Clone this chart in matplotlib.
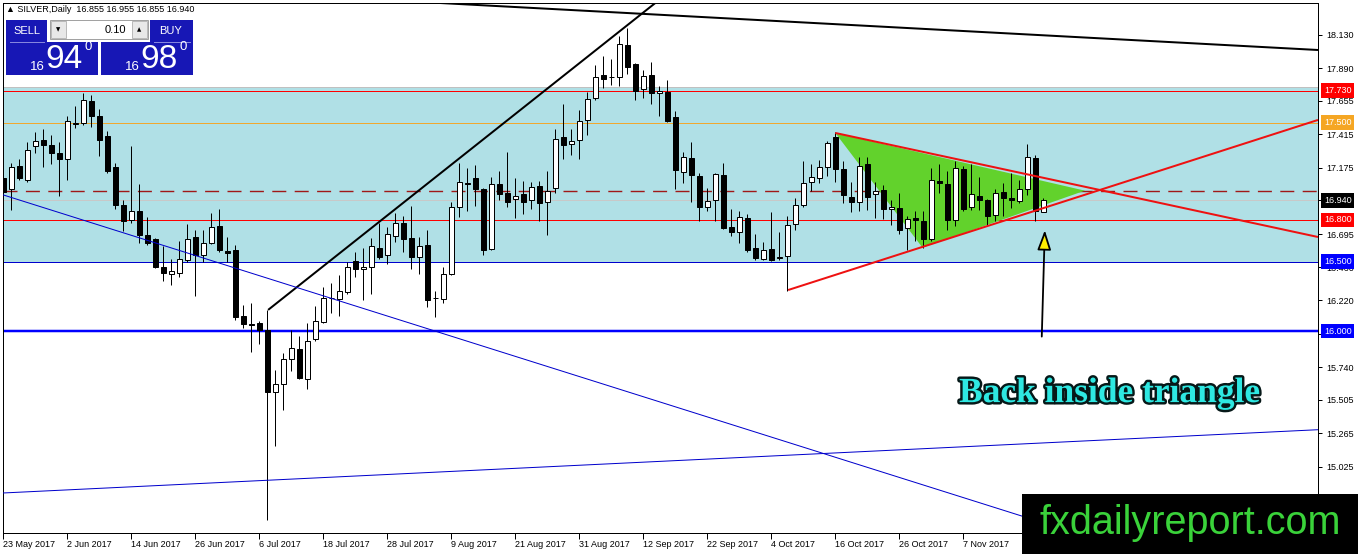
import matplotlib
matplotlib.use('Agg')
import matplotlib.pyplot as plt
import matplotlib.patches as mpatches
import matplotlib.patheffects as pe
import numpy as np

W, H = 1358, 554
FONT = ['Liberation Sans', 'DejaVu Sans']

# daily OHLC, SILVER, 23 May 2017 onwards
opens = [17.10, 17.02, 17.19, 17.09, 17.33, 17.375, 17.34, 17.28, 17.24, 17.49,
         17.50, 17.655, 17.55, 17.40, 17.18, 16.91, 16.80, 16.86, 16.69, 16.66,
         16.46, 16.41, 16.42, 16.51, 16.68, 16.55, 16.63, 16.755, 16.575, 16.58,
         16.11, 16.05, 16.055, 16.01, 15.56, 15.62, 15.80, 15.87, 15.655, 15.945,
         16.065, 16.24, 16.23, 16.28, 16.505, 16.445, 16.46, 16.60, 16.545, 16.685,
         16.78, 16.67, 16.53, 16.62, 16.235, 16.23, 16.41, 16.89, 17.065, 17.10,
         17.02, 16.59, 17.055, 16.99, 16.95, 16.985, 16.94, 17.045, 16.925, 17.03,
         17.395, 17.345, 17.375, 17.515, 17.68, 17.84, 17.825, 17.825, 18.06, 17.92,
         17.74, 17.84, 17.71, 17.72, 17.54, 17.145, 17.245, 17.115, 16.895, 16.94,
         17.12, 16.75, 16.715, 16.815, 16.60, 16.52, 16.59, 16.525, 16.54, 16.77,
         16.91, 17.07, 17.10, 17.18, 17.395, 17.165, 16.965, 16.925, 17.20, 16.985,
         17.015, 16.875, 16.885, 16.74, 16.81, 16.79, 16.66, 17.08, 17.06, 16.80,
         17.165, 16.89, 16.975, 16.94, 16.835, 17.00, 16.955, 16.935, 17.025, 17.245,
         16.855]
highs = [17.28, 17.21, 17.24, 17.36, 17.43, 17.45, 17.41, 17.36, 17.55, 17.62,
         17.71, 17.70, 17.60, 17.44, 17.21, 16.94, 17.33, 17.06, 16.82, 16.67,
         16.61, 16.52, 16.65, 16.77, 16.73, 16.73, 16.85, 16.88, 16.675, 16.62,
         16.19, 16.20, 16.07, 16.15, 15.72, 15.845, 16.01, 15.965, 16.06, 16.18,
         16.32, 16.345, 16.40, 16.50, 16.57, 16.595, 16.67, 16.78, 16.75, 16.85,
         16.83, 16.90, 16.675, 16.73, 16.285, 16.46, 16.93, 17.21, 17.17, 17.195,
         17.03, 17.105, 17.15, 17.285, 17.10, 17.08, 17.07, 17.08, 17.15, 17.45,
         17.635, 17.45, 17.59, 17.72, 17.915, 17.98, 17.96, 18.12, 18.18, 17.93,
         17.88, 17.935, 17.76, 17.805, 17.585, 17.29, 17.36, 17.14, 17.03, 17.14,
         17.21, 16.875, 16.865, 16.845, 16.70, 16.64, 16.855, 16.71, 16.83, 16.96,
         17.22, 17.20, 17.23, 17.37, 17.43, 17.22, 17.07, 17.25, 17.25, 17.075,
         17.05, 16.94, 16.995, 16.825, 16.865, 16.865, 17.17, 17.20, 17.15, 17.225,
         17.19, 17.20, 17.105, 16.95, 17.02, 17.065, 17.135, 17.085, 17.345, 17.265,
         16.955]
lows = [16.98, 16.87, 17.09, 17.07, 17.28, 17.18, 17.20, 16.97, 17.09, 17.46,
        17.48, 17.47, 17.26, 17.14, 16.88, 16.72, 16.78, 16.63, 16.62, 16.45,
        16.36, 16.33, 16.39, 16.50, 16.25, 16.50, 16.625, 16.57, 16.50, 16.08,
        16.02, 15.85, 15.905, 14.64, 15.17, 15.43, 15.715, 15.655, 15.585, 15.93,
        16.06, 16.13, 16.11, 16.27, 16.39, 16.22, 16.27, 16.515, 16.48, 16.64,
        16.57, 16.445, 16.41, 16.17, 16.10, 16.20, 16.40, 16.82, 16.86, 16.90,
        16.545, 16.58, 16.94, 16.89, 16.81, 16.84, 16.88, 16.795, 16.69, 16.99,
        17.24, 17.27, 17.24, 17.41, 17.665, 17.745, 17.77, 17.76, 17.85, 17.66,
        17.68, 17.63, 17.55, 17.505, 17.02, 17.065, 16.925, 16.79, 16.865, 16.795,
        16.735, 16.685, 16.635, 16.57, 16.51, 16.51, 16.505, 16.51, 16.29, 16.73,
        16.89, 17.01, 17.065, 17.115, 17.075, 16.92, 16.855, 16.865, 16.87, 16.81,
        16.805, 16.765, 16.70, 16.58, 16.65, 16.595, 16.645, 16.995, 16.73, 16.755,
        16.865, 16.87, 16.87, 16.755, 16.79, 16.83, 16.885, 16.92, 16.98, 16.795,
        16.855]
closes = [17.00, 17.18, 17.10, 17.30, 17.37, 17.34, 17.28, 17.24, 17.51, 17.50,
          17.66, 17.55, 17.375, 17.15, 16.91, 16.79, 16.86, 16.69, 16.63, 16.46,
          16.415, 16.43, 16.52, 16.66, 16.55, 16.63, 16.75, 16.58, 16.56, 16.10,
          16.05, 16.04, 16.01, 15.56, 15.62, 15.80, 15.875, 15.66, 15.93, 16.07,
          16.24, 16.235, 16.29, 16.46, 16.445, 16.46, 16.61, 16.535, 16.70, 16.78,
          16.66, 16.535, 16.615, 16.22, 16.24, 16.41, 16.895, 17.07, 17.058, 17.02,
          16.58, 17.06, 16.985, 16.925, 16.975, 16.93, 17.035, 16.92, 17.01, 17.38,
          17.335, 17.37, 17.51, 17.67, 17.83, 17.81, 17.83, 18.065, 17.90, 17.73,
          17.835, 17.71, 17.727, 17.51, 17.155, 17.25, 17.12, 16.89, 16.935, 17.13,
          16.74, 16.71, 16.82, 16.585, 16.525, 16.58, 16.51, 16.535, 16.765, 16.91,
          17.065, 17.11, 17.18, 17.35, 17.165, 16.98, 16.925, 17.19, 16.965, 17.01,
          16.875, 16.89, 16.725, 16.805, 16.80, 16.66, 17.085, 17.065, 16.80, 17.17,
          16.88, 16.985, 16.94, 16.825, 16.99, 16.96, 16.94, 17.02, 17.25, 16.865,
          16.94]

date_ticks = [0, 8, 16, 24, 32, 40, 48, 56, 64, 72, 80, 88, 96, 104, 112, 120]
date_labels = ['23 May 2017', '2 Jun 2017', '14 Jun 2017', '26 Jun 2017', '6 Jul 2017',
               '18 Jul 2017', '28 Jul 2017', '9 Aug 2017', '21 Aug 2017', '31 Aug 2017',
               '12 Sep 2017', '22 Sep 2017', '4 Oct 2017', '16 Oct 2017', '26 Oct 2017',
               '7 Nov 2017']
price_ticks = [18.130, 17.890, 17.655, 17.415, 17.175, 16.940, 16.695, 16.460,
               16.220, 15.980, 15.740, 15.505, 15.265, 15.025, 14.785]

# horizontal levels: (price, colour, width px, style)
levels = [(17.730, '#ff0000', 1, '-'), (17.500, '#f0a830', 1, '-'),
          (17.008, '#a01818', 1.4, (0, (10, 6))), (16.940, '#c8c8c8', 1, '-'),
          (16.800, '#ff0000', 1, '-'), (16.500, '#0000cc', 1, '-'),
          (16.000, '#0000ff', 2.5, '-')]
level_tags = [(17.730, '17.730', '#ff0000'), (17.500, '17.500', '#f5a623'),
              (16.940, '16.940', '#000000'), (16.800, '16.800', '#ff0000'),
              (16.500, '16.500', '#0000ff'), (16.000, '16.000', '#0000ff')]
zone = (16.500, 17.755)

# trend lines: two anchor points (bar, price), colour, width px, extend left
trends = [((54.6, 18.36), (164.3, 18.022), 'black', 2, True),
          ((33.1, 16.152), (81.5, 18.36), 'black', 2, False),
          ((0.0, 16.979), (127.7, 14.662), '#0000cc', 1, True),
          ((0.0, 14.835), (164.3, 15.29), '#0000cc', 1, True),
          ((104.0, 17.425), (164.3, 16.677), '#ee1111', 2, False),
          ((98.1, 16.295), (164.3, 17.518), '#ee1111', 2, False)]
triangle = [(104.0, 17.425), (114.9, 16.60), (135.2, 17.01)]

XMIN, XMAX = -0.04, 164.34
YMIN, YMAX = 14.547, 18.360
PX = 0.72  # one pixel in points

fig = plt.figure(figsize=(W / 100, H / 100), dpi=100)
fig.patch.set_facecolor('white')
ax = fig.add_axes([3 / W, 21 / H, 1315 / W, 530 / H])
ax.set_xlim(XMIN, XMAX)
ax.set_ylim(YMIN, YMAX)
ax.set_facecolor('white')

ax.axhspan(zone[0], zone[1], facecolor='#b0e0e6', edgecolor='none', zorder=0)
ax.axhline(zone[1], color='#c0c0c0', lw=PX, zorder=0.5)
for p, col, lw, ls in levels:
    ax.axhline(p, color=col, lw=lw * PX, linestyle=ls, zorder=1)

ax.add_patch(mpatches.Polygon(triangle, closed=True, facecolor='#62d22c',
                              edgecolor='none', zorder=1.5))

# candles
idx = np.arange(len(opens))
o, h, l, c = map(np.array, (opens, highs, lows, closes))
up = c >= o
ax.vlines(idx, l, h, color='black', lw=PX, zorder=3)
ax.bar(idx[up], np.maximum((c - o)[up], 0.004), bottom=o[up], width=0.62,
       color='white', edgecolor='black', lw=PX, zorder=4)
ax.bar(idx[~up], np.maximum((o - c)[~up], 0.004), bottom=c[~up], width=0.62,
       color='black', edgecolor='black', lw=PX, zorder=4)

for (x0, p0), (x1, p1), col, lw, both in trends:
    k = (p1 - p0) / (x1 - x0)
    xs = XMIN if both else x0
    ax.plot([xs, XMAX], [p0 + k * (xs - x0), p0 + k * (XMAX - x0)],
            color=col, lw=lw * PX, zorder=5, solid_capstyle='butt')

# arrow + comment
ax.annotate('', xy=(130.2, 16.745), xytext=(129.8, 15.94),
            arrowprops=dict(arrowstyle='-|>,head_length=1.2,head_width=0.42',
                            fc='#ffee00', ec='black', lw=1.3), zorder=6)
ax.text(138.3, 15.55, 'Back inside triangle', family=['Liberation Serif', 'DejaVu Serif'],
        weight='bold', size=25.5, color='#2ee8e2', ha='center', va='center', zorder=6,
        path_effects=[pe.withStroke(linewidth=3.5, foreground='#061818')])

# axes styling
for s in ax.spines.values():
    s.set_color('black')
    s.set_linewidth(PX)
ax.yaxis.tick_right()
ax.set_yticks(price_ticks)
ax.set_yticklabels([f'{p:.3f}' for p in price_ticks])
ax.set_xticks(date_ticks)
ax.set_xticklabels(date_labels, ha='left')
ax.tick_params(axis='y', length=3, width=PX, pad=3, labelsize=6.5, colors='black')
ax.tick_params(axis='x', length=4, width=PX, pad=1, labelsize=6.5, colors='black')
for t in ax.get_xticklabels() + ax.get_yticklabels():
    t.set_family(FONT)

for p, txt, col in level_tags:
    ax.text(1.0046, p, txt, transform=ax.get_yaxis_transform(), color='white',
            size=6.5, family=FONT, va='center', ha='left', clip_on=False, zorder=10,
            bbox=dict(boxstyle='square,pad=0.3', fc=col, ec='none'))

# overlay in pixel coords: header, trade panel, logo
ov = fig.add_axes([0, 0, 1, 1], zorder=5)
ov.set_xlim(0, W)
ov.set_ylim(H, 0)
ov.axis('off')
ov.patch.set_alpha(0)

ov.text(6, 9.5, '\u25b2 SILVER,Daily  16.855 16.955 16.855 16.940', size=6.5,
        family=FONT, va='center', ha='left', color='black')

blue = '#1717b5'
for x, y, w, hgt in [(6, 20, 41, 22), (6, 42, 92, 33), (150, 20, 43, 22), (101, 42, 92, 33)]:
    ov.add_patch(mpatches.Rectangle((x, y), w, hgt, fc=blue, ec='none'))
ov.plot([10, 44], [41.5, 41.5], color='#8a8ae0', lw=0.7)
ov.plot([154, 190], [41.5, 41.5], color='#8a8ae0', lw=0.7)
ov.add_patch(mpatches.Rectangle((50, 20), 98, 19, fc='white', ec='#a0a0a0', lw=0.7))
ov.add_patch(mpatches.Rectangle((51, 21), 15, 17, fc='#e8e8e8', ec='#b0b0b0', lw=0.6))
ov.add_patch(mpatches.Rectangle((132, 21), 15, 17, fc='#e8e8e8', ec='#b0b0b0', lw=0.6))
ov.text(58.5, 30, '\u25bc', size=4, ha='center', va='center', family='DejaVu Sans')
ov.text(139.5, 29.5, '\u25b2', size=4, ha='center', va='center', family='DejaVu Sans')
ov.text(126, 30, '0.10', size=8, ha='right', va='center', family=FONT)
ov.text(27, 31, 'SELL', size=8, ha='center', va='center', color='white', family=FONT)
ov.text(171, 31, 'BUY', size=8, ha='center', va='center', color='white', family=FONT)
for x0, big in [(6, '94'), (101, '98')]:
    ov.text(x0 + 31, 67, '16', size=9.5, ha='center', va='center', color='white', family=FONT)
    ov.text(x0 + 58, 60, big, size=24, ha='center', va='center', color='white', family=FONT)
    ov.text(x0 + 82, 47, '0', size=9.5, ha='center', va='center', color='white', family=FONT)

ov.add_patch(mpatches.Rectangle((1022, 494), 336, 60, fc='black', ec='none'))
ov.text(1190, 523, 'fxdailyreport.com', size=28.5, color='#3ad23a', ha='center',
        va='center', family=FONT)

fig.savefig('out.png', dpi=100)
